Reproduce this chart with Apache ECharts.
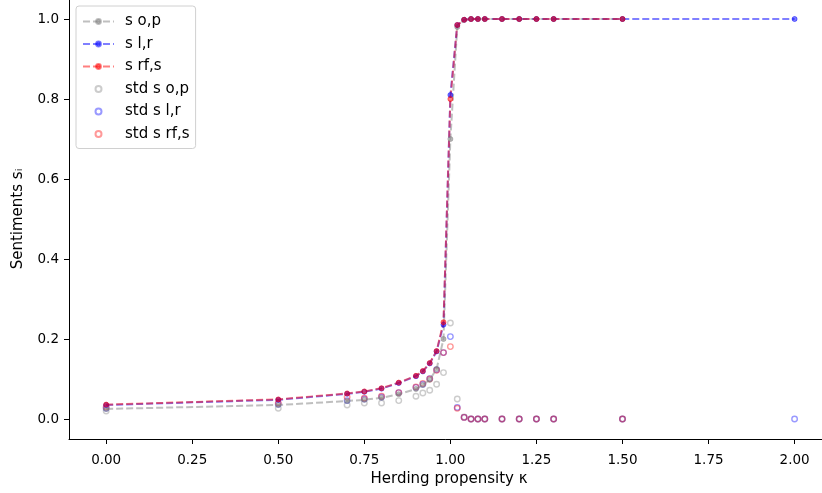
<!DOCTYPE html>
<html>
<head>
<meta charset="utf-8">
<script src="https://cdn.jsdelivr.net/npm/echarts@6/dist/echarts.min.js"></script>
<style>
  html, body { margin: 0; padding: 0; background: #fff; }
  #chart { width: 822px; height: 493px; }
</style>
</head>
<body>
<div id="chart"></div>
<script>
// herding propensity values (s l,r has one extra point at 2.0)
var kappa = [0, 0.5, 0.7, 0.75, 0.8, 0.85, 0.9, 0.92, 0.94, 0.96, 0.98, 1.0, 1.02, 1.04, 1.06, 1.08, 1.1, 1.15, 1.2, 1.25, 1.3, 1.5];
var kappaLr = kappa.concat([2.0]);

var sOp  = [0.025, 0.035, 0.045, 0.048, 0.053, 0.062, 0.075, 0.085, 0.098, 0.125, 0.20, 0.70, 0.98, 0.998, 1, 1, 1, 1, 1, 1, 1, 1];
var sLr  = [0.035, 0.048, 0.063, 0.068, 0.076, 0.090, 0.107, 0.119, 0.139, 0.169, 0.236, 0.81, 0.985, 0.998, 1, 1, 1, 1, 1, 1, 1, 1, 1];
var sRfs = [0.036, 0.049, 0.064, 0.069, 0.077, 0.091, 0.108, 0.120, 0.140, 0.170, 0.242, 0.80, 0.985, 0.998, 1, 1, 1, 1, 1, 1, 1, 1];

var stdOp  = [0.020, 0.027, 0.035, 0.040, 0.040, 0.046, 0.057, 0.065, 0.072, 0.087, 0.116, 0.240, 0.050, 0.005, 0, 0, 0, 0, 0, 0, 0, 0];
var stdLr  = [0.027, 0.037, 0.046, 0.050, 0.055, 0.066, 0.079, 0.087, 0.101, 0.123, 0.166, 0.206, 0.029, 0.004, 0, 0, 0, 0, 0, 0, 0, 0, 0];
var stdRfs = [0.030, 0.040, 0.055, 0.052, 0.057, 0.066, 0.080, 0.089, 0.100, 0.122, 0.166, 0.181, 0.027, 0.004, 0, 0, 0, 0, 0, 0, 0, 0];

var xTicks = [0, 0.25, 0.5, 0.75, 1.0, 1.25, 1.5, 1.75, 2.0];
var yTicks = [0, 0.2, 0.4, 0.6, 0.8, 1.0];

var gray = 'rgba(128,128,128,0.5)';
var blue = 'rgba(0,0,255,0.5)';
var red  = 'rgba(255,0,0,0.5)';

function pairs(xs, ys) {
  return ys.map(function (v, i) { return [xs[i], v]; });
}

function meanSeries(name, xs, ys, color) {
  return {
    name: name,
    type: 'line',
    data: pairs(xs, ys),
    symbol: 'circle',
    symbolSize: 5,
    showSymbol: true,
    lineStyle: { color: color, width: 2, type: [7, 3] },
    itemStyle: { color: color, borderColor: color, borderWidth: 1 },
    emphasis: { disabled: true },
    animation: false
  };
}

function stdSeries(name, xs, ys, color) {
  return {
    name: name,
    type: 'scatter',
    data: pairs(xs, ys),
    symbol: 'circle',
    symbolSize: 5.5,
    itemStyle: { color: 'rgba(0,0,0,0)', borderColor: color, borderWidth: 1.4 },
    emphasis: { disabled: true },
    animation: false
  };
}

var chart = echarts.init(document.getElementById('chart'), null, { renderer: 'canvas' });

var option = {
  backgroundColor: '#fff',
  textStyle: { fontFamily: 'DejaVu Sans' },
  grid: { left: 69, width: 760, top: -1, bottom: 54, outerBoundsMode: 'none', containLabel: false },
  legend: {
    orient: 'vertical',
    left: 76,
    top: 6,
    padding: [8, 6, 7, 6],
    itemGap: 7.5,
    itemWidth: 31,
    itemHeight: 6,
    borderColor: '#d0d0d0',
    borderWidth: 1,
    borderRadius: 3,
    backgroundColor: 'rgba(255,255,255,0.8)',
    textStyle: { fontSize: 15, color: '#000', fontFamily: 'DejaVu Sans', padding: [0, 0, 0, 6] },
    data: ['s o,p', 's l,r', 's rf,s', 'std s o,p', 'std s l,r', 'std s rf,s']
  },
  xAxis: {
    type: 'value',
    min: -0.108,
    max: 2.1,
    name: 'Herding propensity κ',
    nameLocation: 'middle',
    nameGap: 32,
    nameTextStyle: { fontSize: 15, color: '#000' },
    axisLine: { show: true, onZero: false, lineStyle: { color: '#000', width: 1 } },
    axisTick: { show: true, length: 5, customValues: xTicks, lineStyle: { color: '#000' } },
    axisLabel: {
      fontSize: 13.5, color: '#000', margin: 14,
      customValues: xTicks,
      formatter: function (v) { return v.toFixed(2); }
    },
    splitLine: { show: false }
  },
  yAxis: {
    type: 'value',
    min: -0.05,
    max: 1.05,
    name: 'Sentiments sᵢ',
    nameLocation: 'middle',
    nameGap: 43,
    nameTextStyle: { fontSize: 15, color: '#000' },
    axisLine: { show: true, onZero: false, lineStyle: { color: '#000', width: 1 } },
    axisTick: { show: true, length: 5, customValues: yTicks, lineStyle: { color: '#000' } },
    axisLabel: {
      fontSize: 13.5, color: '#000', margin: 10,
      customValues: yTicks,
      formatter: function (v) { return v.toFixed(1); }
    },
    splitLine: { show: false }
  },
  series: [
    meanSeries('s o,p', kappa, sOp, gray),
    meanSeries('s l,r', kappaLr, sLr, blue),
    meanSeries('s rf,s', kappa, sRfs, red),
    stdSeries('std s o,p', kappa, stdOp, gray),
    stdSeries('std s l,r', kappaLr, stdLr, blue),
    stdSeries('std s rf,s', kappa, stdRfs, red)
  ]
};

chart.setOption(option);
</script>
</body>
</html>
